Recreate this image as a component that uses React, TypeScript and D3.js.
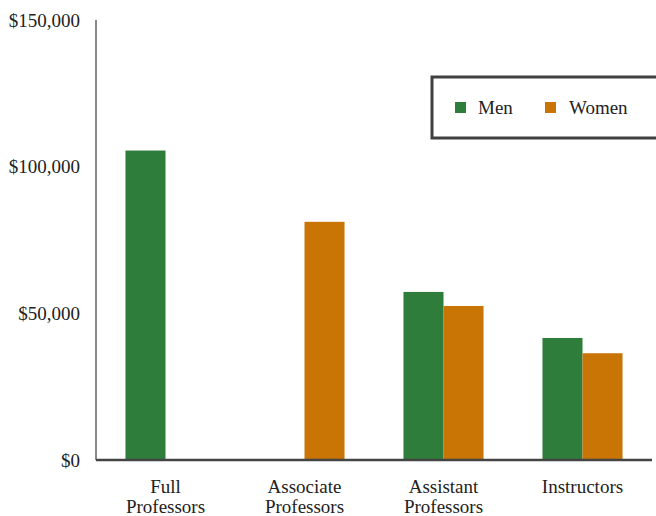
import React from "react";
import * as d3 from "d3";

const categories = ["Full|Professors", "Associate|Professors", "Assistant|Professors", "Instructors"];
const seriesNames = ["Men", "Women"];
const menValues = [105500, 0, 57300, 41600];
const womenValues = [0, 81200, 52500, 36400];
const yTicks = [0, 50000, 100000, 150000];
const colors = ["#2F7D3B", "#C97506"];

export default function App() {
  const W = 656, H = 516;
  const left = 96, right = 652, top = 20, bottom = 460;
  const font = "'Liberation Serif', 'Times New Roman', serif";
  const x0 = d3.scaleBand<string>().domain(categories).range([left, right]).paddingInner(0.424).paddingOuter(0.212);
  const x1 = d3.scaleBand<string>().domain(seriesNames).range([0, x0.bandwidth()]);
  const y = d3.scaleLinear().domain([0, 150000]).range([bottom, top]);
  const fmt = (v: number) => "$" + d3.format(",")(v);
  const series = [menValues, womenValues];

  return (
    <svg width={W} height={H} style={{ position: "absolute", left: 0, top: 0 }} fontFamily={font}>
      <rect width={W} height={H} fill="#fff" />
      {categories.map((c, i) =>
        seriesNames.map((s, j) => {
          const v = series[j][i];
          if (!v) return null;
          return (
            <rect key={c + s} x={(x0(c) as number) + (x1(s) as number)} y={y(v)} width={x1.bandwidth()} height={y(0) - y(v)} fill={colors[j]} />
          );
        })
      )}
      <line x1={left} x2={left} y1={top} y2={bottom} stroke="#888" strokeWidth={2} />
      <line x1={left} x2={right} y1={bottom} y2={bottom} stroke="#444" strokeWidth={2.5} />
      {yTicks.map((t) => (
        <text key={t} x={80} y={y(t)} dy="0.35em" textAnchor="end" fontSize={19} fill="#222">{fmt(t)}</text>
      ))}
      {categories.map((c) => {
        const cx = (x0(c) as number) + x0.bandwidth() / 2;
        const lines = c.split("|");
        return (
          <text key={c} textAnchor="middle" fontSize={19} fill="#222">
            {lines.map((l, k) => (
              <tspan key={k} x={cx} y={493 + k * 20}>{l}</tspan>
            ))}
          </text>
        );
      })}
      <rect x={432} y={77} width={240} height={61} fill="#fff" stroke="#404040" strokeWidth={3} />
      {seriesNames.map((s, j) => (
        <g key={s}>
          <rect x={455 + j * 90} y={102} width={11} height={11} fill={colors[j]} />
          <text x={478 + j * 91} y={114} fontSize={19} fill="#222">{s}</text>
        </g>
      ))}
    </svg>
  );
}
